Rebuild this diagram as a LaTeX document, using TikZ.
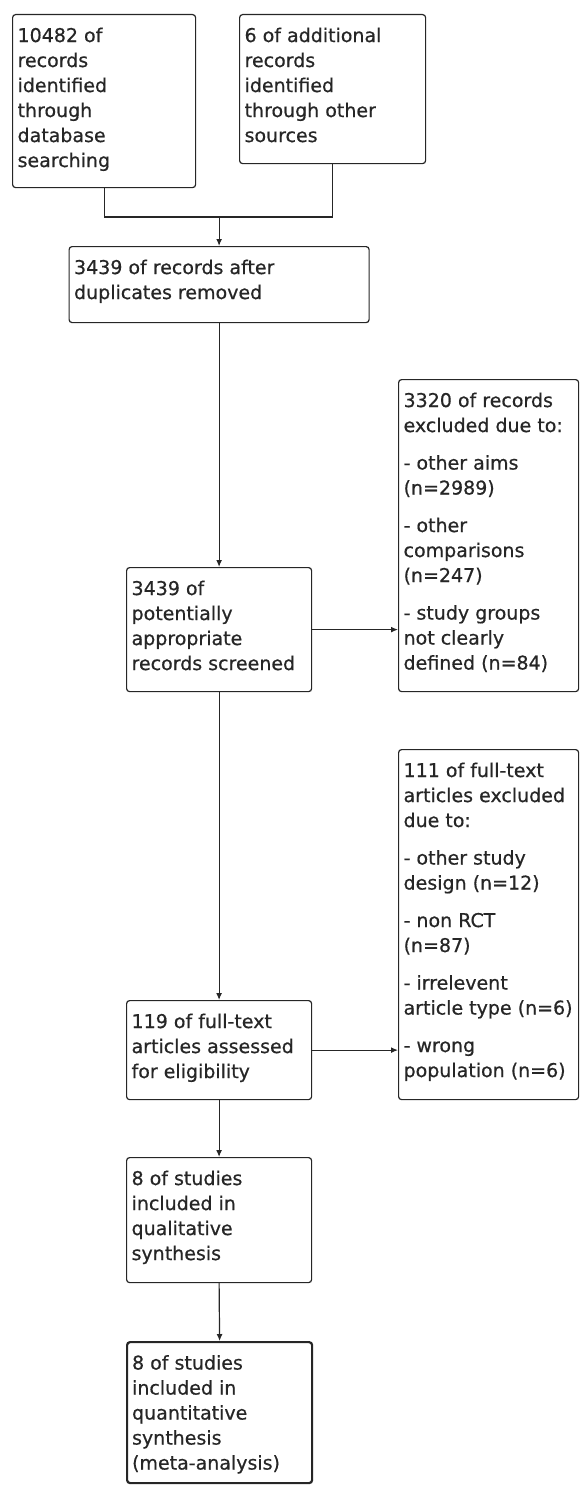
\documentclass[tikz,border=0pt]{standalone}
\usepackage{fontspec}
\setmainfont[FakeBold=0.6]{DejaVu Sans}
\usetikzlibrary{arrows.meta}

% box text: outer width, height, lines (top aligned)
\newcommand{\boxtext}[3]{\parbox[c][#2pt][t]{\dimexpr #1pt-10pt\relax}{\hfuzz=20pt\vspace*{13pt}#3}}

\begin{document}
\begin{tikzpicture}[x=1pt, y=-1pt,
    stage/.style={draw=black!85, line width=1.2pt, rounded corners=3pt, anchor=north west,
        inner xsep=5pt, inner ysep=0pt, text=black!85, font=\fontsize{19}{25}\selectfont},
    flow/.style={draw=black!85, line width=1.2pt},
    >={Latex[length=7pt, width=6pt]}]
    \useasboundingbox (0,0) rectangle (579,1485);

    % identification
    \node[stage] (db) at (12,14) {\boxtext{183}{173}{10482 of\\records\\identified\\through\\database\\searching}};
    \node[stage] (other) at (239,14) {\boxtext{186}{149}{6 of additional\\records\\identified\\through other\\sources}};

    % screening
    \node[stage] (dup) at (68.5,246) {\boxtext{300}{76}{3439 of records after\\duplicates removed}};
    \node[stage] (screen) at (126,567) {\boxtext{185}{124}{3439 of\\potentially\\appropriate\\records screened}};
    \node[stage] (excl1) at (398,379) {\boxtext{180}{312}{3320 of records\\excluded due to:\\[12.5pt]- other aims\\(n=2989)\\[12.5pt]- other\\comparisons\\(n=247)\\[12.5pt]- study groups\\not clearly\\defined (n=84)}};

    % eligibility
    \node[stage] (full) at (126,1000) {\boxtext{185}{99}{119 of full-text\\articles assessed\\for eligibility}};
    \node[stage] (excl2) at (398,749) {\boxtext{180}{350}{111 of full-text\\articles excluded\\due to:\\[12.5pt]- other study\\design (n=12)\\[12.5pt]- non RCT\\(n=87)\\[12.5pt]- irrelevent\\article type (n=6)\\[12.5pt]- wrong\\population (n=6)}};

    % included
    \node[stage] (qual) at (126,1157) {\boxtext{185}{125}{8 of studies\\included in\\qualitative\\synthesis}};
    \node[stage, line width=2.2pt] (quant) at (126,1341) {\boxtext{185}{141}{8 of studies\\included in\\quantitative\\synthesis\\(meta-analysis)}};

    \coordinate (merge) at ([yshift=29pt]dup.north);
    \draw[flow] (db.south) |- (merge) -| (other.south);
    \draw[flow, ->] (merge) -- (dup.north);
    \draw[flow, ->] (dup.south) -- (screen.north);
    \draw[flow, ->] (screen.east) -- (screen.east -| excl1.west);
    \draw[flow, ->] (screen.south) -- (full.north);
    \draw[flow, ->] (full.east) -- (full.east -| excl2.west);
    \draw[flow, ->] (full.south) -- (qual.north);
    \draw[flow, ->] (qual.south) -- (quant.north);
\end{tikzpicture}
\end{document}
